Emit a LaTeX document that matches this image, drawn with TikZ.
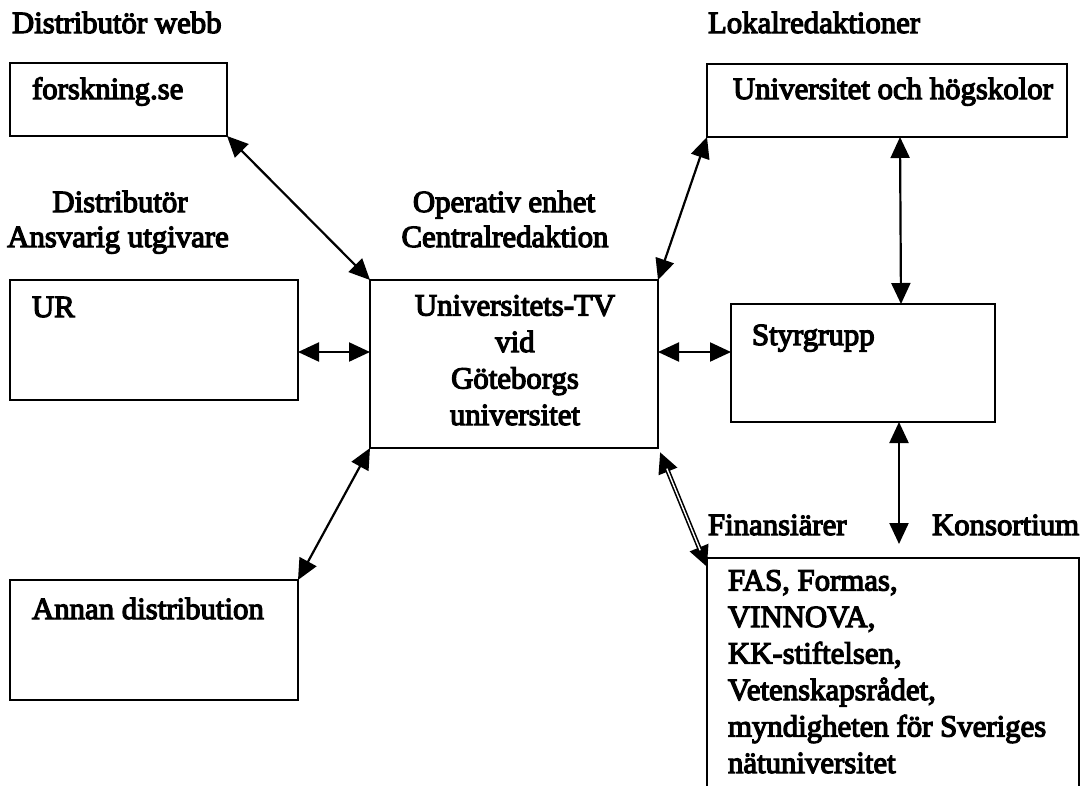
\documentclass[tikz,border=0pt]{standalone}
\usepackage{fontspec}
\newfontfamily\lblfont{Liberation Serif}[FakeBold=4]
\usetikzlibrary{arrows.meta,calc}
\begin{document}
\begin{tikzpicture}[x=1pt,y=-1pt,
  every node/.style={inner sep=0pt,outer sep=0pt},
  box/.style={draw,line width=1.6pt,rectangle,anchor=north west},
  lbl/.style={font=\lblfont\fontsize{30.8}{36.5}\selectfont,anchor=base west},
  arr/.style={line width=2.2pt,{Triangle[length=21pt,width=19pt]}-{Triangle[length=21pt,width=19pt]}}]
\useasboundingbox (0,0) rectangle (1086,785);
\clip (0,0) rectangle (1086,785);
% boxes
\node[box,minimum width=217pt,minimum height=73pt] (fors) at (10,63) {};
\node[box,minimum width=360pt,minimum height=73pt] (univ) at (707,64) {};
\node[box,minimum width=288pt,minimum height=120pt] (ur) at (10,280) {};
\node[box,minimum width=288pt,minimum height=168pt] (cen) at (370,280) {};
\node[box,minimum width=264pt,minimum height=118pt] (sty) at (731,304) {};
\node[box,minimum width=288pt,minimum height=120pt] (ann) at (10,580) {};
\node[box,minimum width=372pt,minimum height=260pt] (fin) at (707,558) {};
% labels
\node[lbl] (t1) at (12,33) {Distributör webb};
\node[lbl] (t2) at (708,33) {Lokalredaktioner};
\node[lbl] (t3) at (32,99) {forskning.se};
\node[lbl] (t4) at (733,99) {Universitet och högskolor};
\node[lbl,anchor=base] (t5) at (120,212) {Distributör};
\node[lbl,anchor=base] (t6) at (118,247) {Ansvarig utgivare};
\node[lbl,anchor=base] (t7) at (504,212) {Operativ enhet};
\node[lbl,anchor=base] (t8) at (505,247) {Centralredaktion};
\node[lbl] (t9) at (32,317) {UR};
\node[lbl] (t10) at (752,345) {Styrgrupp};
\node[lbl] (t11) at (32,619) {Annan distribution};
\node[lbl] (t12) at (708,535) {Finansiärer};
\node[lbl] (t13) at (932,535) {Konsortium};
\node[lbl,anchor=base,align=center] (t14) at (515,425) {Universitets-TV\\vid\\Göteborgs\\universitet};
\node[lbl,align=left] (t15) at (728,773) {FAS, Formas,\\VINNOVA,\\KK-stiftelsen,\\Vetenskapsrådet,\\myndigheten för Sveriges\\nätuniversitet};
% connectors
\coordinate (mid) at (0,352);
\coordinate (kend) at (899,544);
\draw[arr] (fors.south east) -- (cen.north west);
\draw[arr] (univ.south west) -- (cen.north east);
\draw[arr] ([xshift=13pt]univ.south) -- ([xshift=38pt]sty.north);
\draw[arr] (ur.east |- mid) -- (cen.west |- mid);
\draw[arr] (cen.east |- mid) -- (sty.west |- mid);
\draw[arr] ([xshift=36pt]sty.south) -- (kend);
\draw[arr] (ann.north east) -- (cen.south west);
\draw[arr,line width=4.6pt] ([shift={(2pt,-4pt)}]cen.south east) -- ([yshift=-9pt]fin.north west);
\draw[white,line width=1.4pt,shorten <=18pt,shorten >=18pt] ([shift={(2pt,-4pt)}]cen.south east) -- ([yshift=-9pt]fin.north west);
\end{tikzpicture}
\end{document}
